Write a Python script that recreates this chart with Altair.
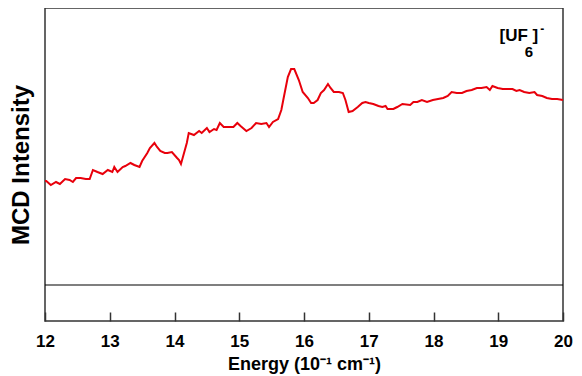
import altair as alt
import pandas as pd

# Energy (10^-1 cm^-1 units as on the axis) and MCD intensity (arbitrary units, 0 = baseline)
energy = [12.00, 12.02, 12.09, 12.17, 12.23, 12.31, 12.38, 12.43, 12.48, 12.55,
          12.63, 12.69, 12.74, 12.81, 12.89, 12.97, 13.04, 13.07, 13.12, 13.20,
          13.24, 13.32, 13.38, 13.46, 13.50, 13.58, 13.62, 13.69, 13.73, 13.78,
          13.85, 13.89, 13.96, 14.04, 14.07, 14.10, 14.19, 14.22, 14.30, 14.38,
          14.42, 14.50, 14.54, 14.61, 14.65, 14.70, 14.76, 14.84, 14.91, 14.97,
          15.02, 15.11, 15.19, 15.26, 15.34, 15.42, 15.46, 15.52, 15.60, 15.65,
          15.68, 15.75, 15.80, 15.85, 15.92, 15.98, 16.06, 16.11, 16.15, 16.21,
          16.26, 16.31, 16.37, 16.41, 16.46, 16.54, 16.60, 16.64, 16.69, 16.75,
          16.83, 16.90, 16.95, 17.00, 17.07, 17.15, 17.21, 17.26, 17.29, 17.38,
          17.44, 17.52, 17.64, 17.69, 17.75, 17.82, 17.90, 17.99, 18.07, 18.15,
          18.22, 18.28, 18.36, 18.44, 18.51, 18.59, 18.67, 18.74, 18.82, 18.87,
          18.91, 18.99, 19.07, 19.14, 19.22, 19.28, 19.33, 19.40, 19.48, 19.56,
          19.60, 19.68, 19.75, 19.83, 19.91, 20.00]
mcd = [104, 104, 100, 103, 101, 106, 105, 103, 107, 107,
       106, 106, 115, 113, 111, 115, 113, 118, 113, 118,
       119, 122, 120, 118, 124, 132, 137, 142, 138, 134,
       132, 132, 133, 127, 125, 121, 142, 152, 150, 154,
       152, 157, 153, 156, 155, 162, 158, 158, 158, 162,
       159, 154, 157, 162, 161, 162, 158, 163, 166, 175,
       185, 208, 216, 216, 205, 193, 187, 182, 182, 185,
       192, 195, 201, 197, 193, 193, 192, 185, 173, 174,
       178, 182, 183, 182, 181, 179, 178, 179, 176, 176,
       178, 181, 180, 183, 183, 185, 183, 185, 186, 187,
       189, 193, 192, 192, 194, 195, 197, 197, 198, 195,
       199, 197, 196, 196, 196, 194, 195, 193, 192, 193,
       190, 189, 187, 186, 186, 185]

x_ticks = [12, 13, 14, 15, 16, 17, 18, 19, 20]
baseline = [0]

# annotation "[UF6]-" pieces
ann_text = ["[UF", "6", "]", "-"]
ann_x = [19.02, 19.41, 19.53, 19.65]
ann_y = [244, 228, 244, 252]
ann_size = [17, 15, 17, 12]

FONT = "Liberation Sans"

df = pd.DataFrame({"energy": energy, "mcd": mcd})
x_scale = alt.Scale(domain=[12, 20], nice=False, zero=False)
y_scale = alt.Scale(domain=[-36, 277], nice=False, zero=False)

line = alt.Chart(df).mark_line(color="#e8000b", strokeWidth=2).encode(
    x=alt.X("energy:Q", scale=x_scale,
            axis=alt.Axis(values=x_ticks, title="Energy (10⁻¹ cm⁻¹)", format="d",
                          offset=-9, tickSize=9, tickWidth=1.5, tickColor="#333",
                          domain=False, grid=False, labelPadding=12, labelFlush=False,
                          labelFontSize=17, labelFontWeight="bold", labelColor="black",
                          labelFont=FONT, titleFont=FONT, titleFontSize=18,
                          titleFontWeight="bold", titleColor="black", titlePadding=6)),
    y=alt.Y("mcd:Q", scale=y_scale,
            axis=alt.Axis(title="MCD Intensity", labels=False, ticks=False, domain=False,
                          grid=False, titleFont=FONT, titleFontSize=24,
                          titleFontWeight="bold", titleColor="black", titlePadding=12)),
)

zero = alt.Chart(pd.DataFrame({"y": baseline})).mark_rule(color="black", strokeWidth=1.2).encode(
    y=alt.Y("y:Q", scale=y_scale)
)

ann_layers = []
for t, xx, yy, s in zip(ann_text, ann_x, ann_y, ann_size):
    ann_layers.append(
        alt.Chart(pd.DataFrame({"t": [t], "x": [xx], "y": [yy]})).mark_text(
            align="left", baseline="alphabetic", font=FONT, fontWeight="bold",
            fontSize=s, color="black"
        ).encode(x=alt.X("x:Q", scale=x_scale), y=alt.Y("y:Q", scale=y_scale), text="t:N")
    )

chart = alt.layer(zero, line, *ann_layers).properties(
    width=518, height=313,
    autosize=alt.AutoSizeParams(type="none"),
    padding={"left": 37, "top": 0, "right": 11, "bottom": 55},
).configure_view(stroke="#333", strokeWidth=1.5)

chart.save("out.html", embed_options={"renderer": "svg", "actions": False})
